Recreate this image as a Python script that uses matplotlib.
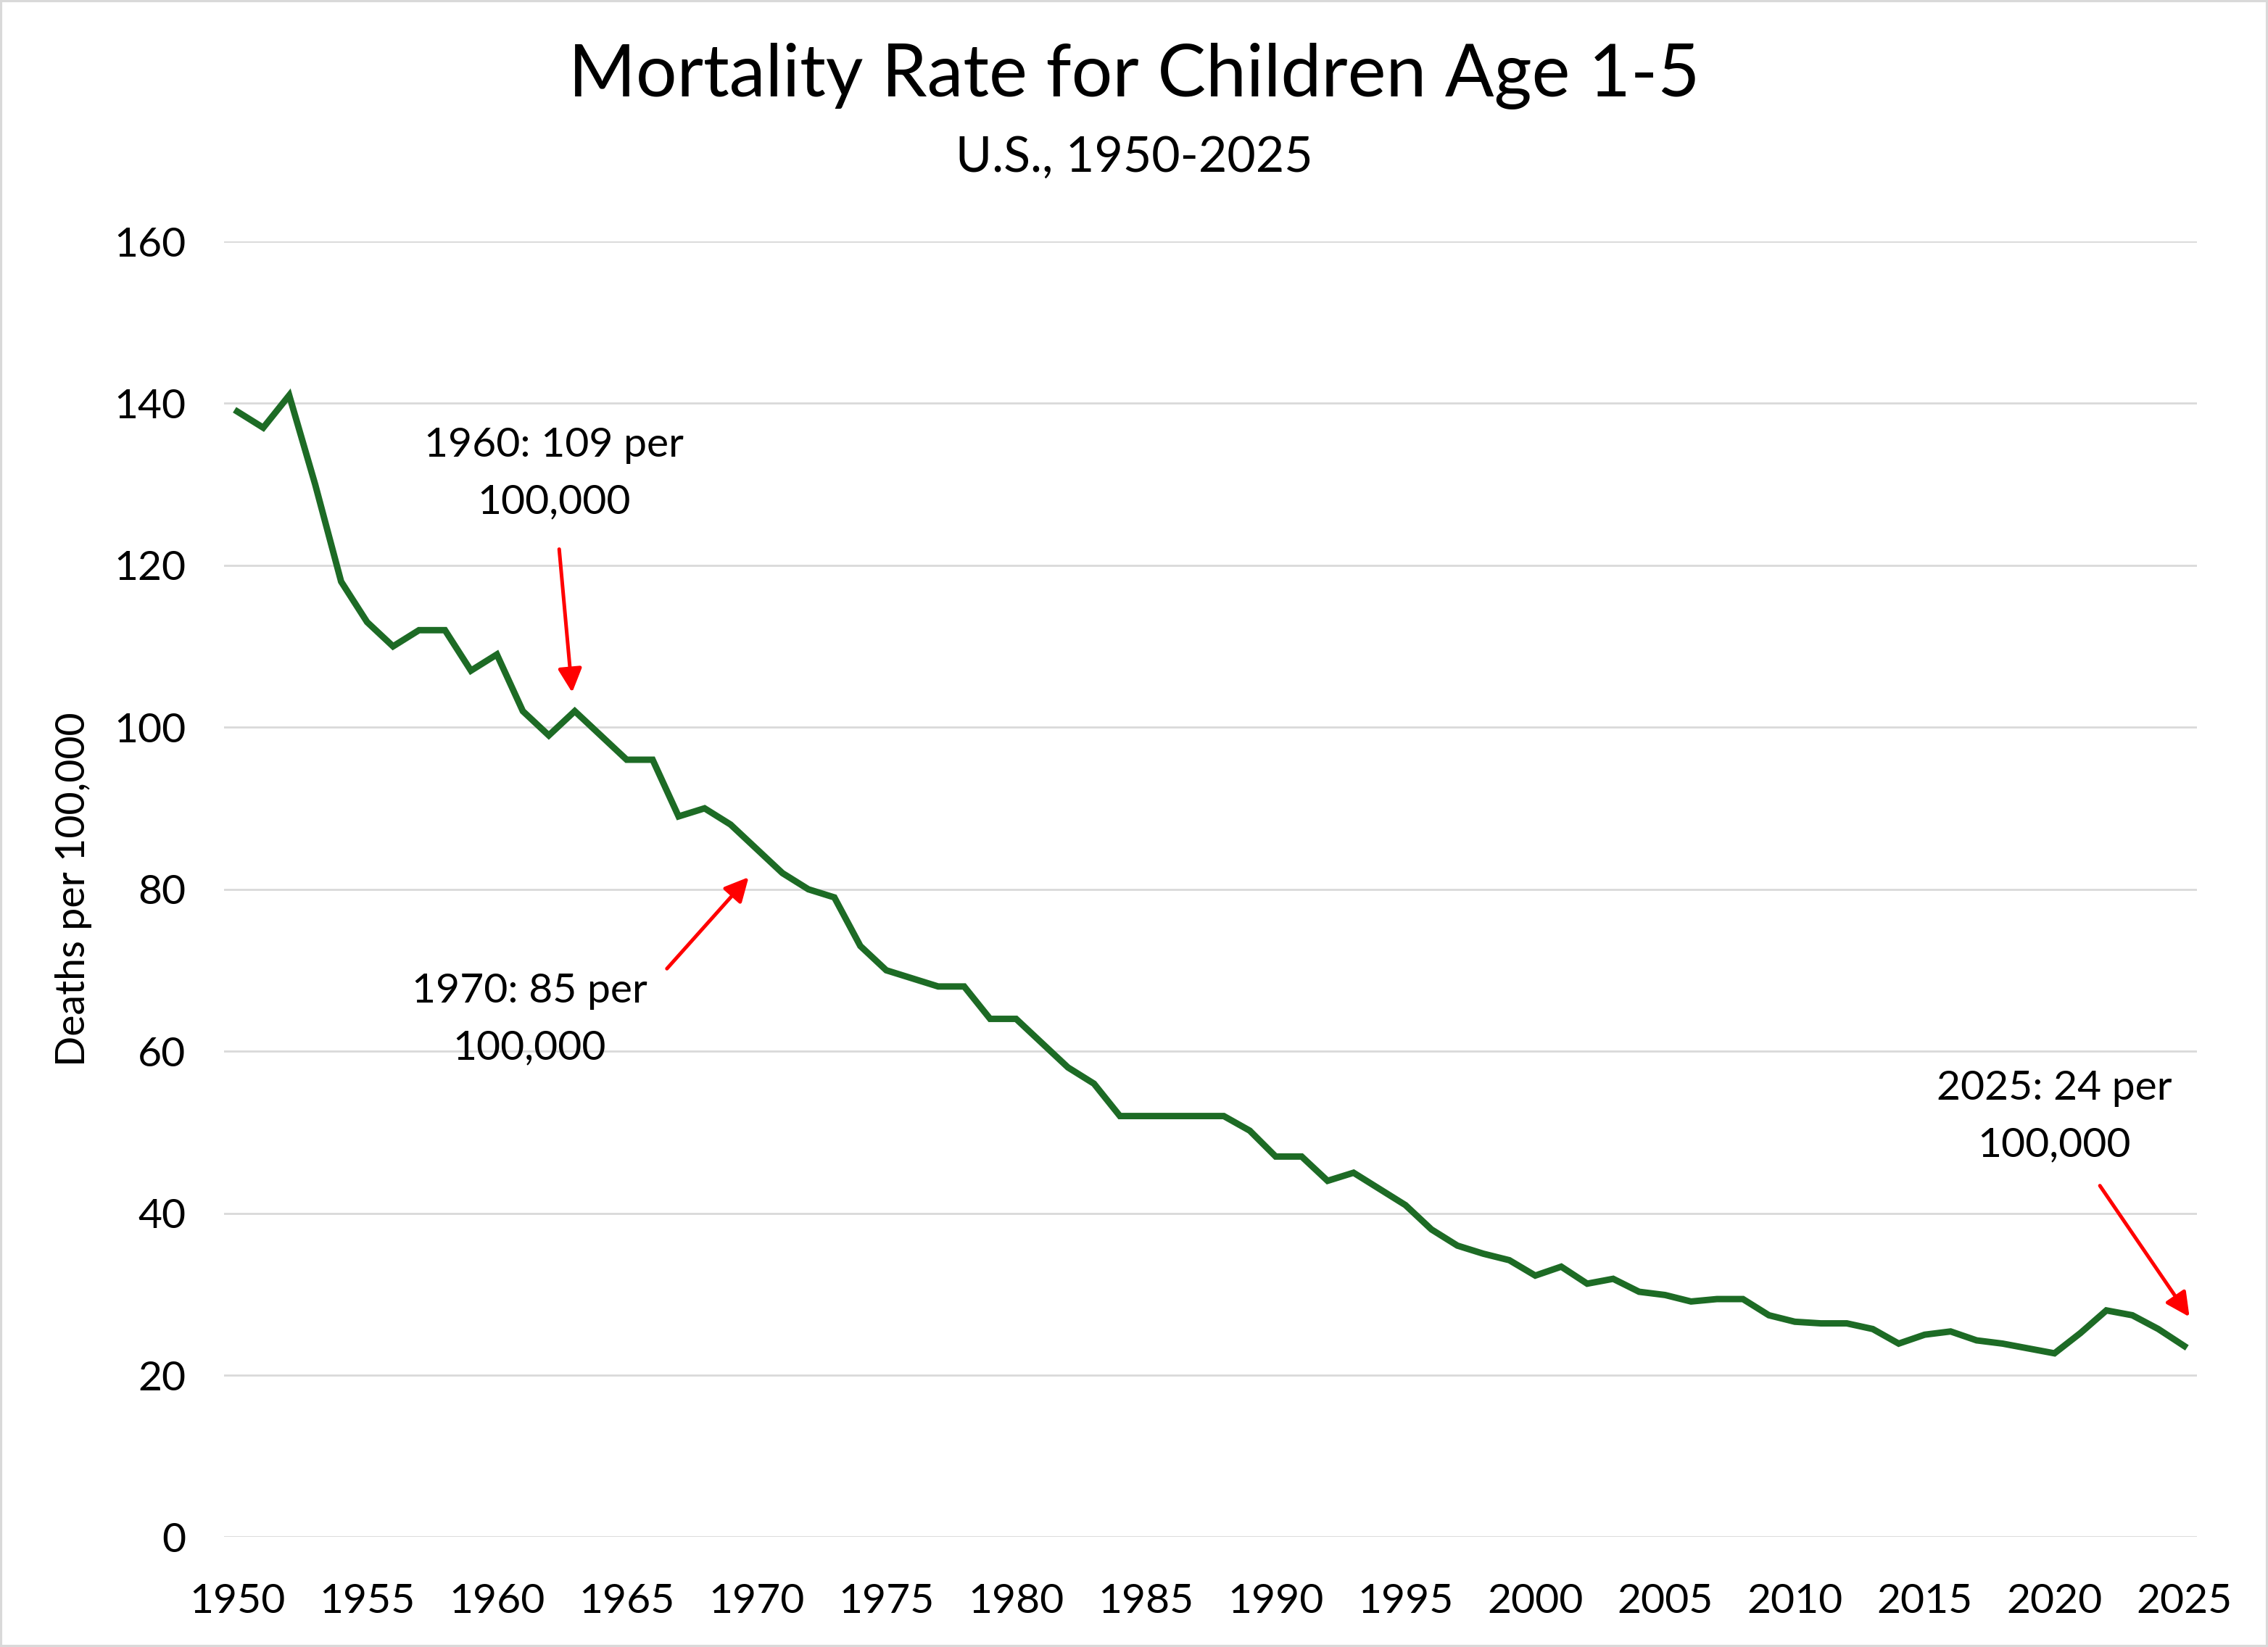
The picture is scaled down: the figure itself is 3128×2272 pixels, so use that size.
import matplotlib
matplotlib.use("Agg")
import matplotlib.pyplot as plt
from matplotlib.patches import Rectangle

# Data (deaths per 100,000, children age 1-5)
years = list(range(1950, 2026))
rates = [139, 137, 141, 130, 118, 113, 110, 112, 112, 107,
         109, 102, 99, 102, 99, 96, 96, 89, 90, 88,
         85, 82, 80, 79, 73, 70, 69, 68, 68, 64,
         64, 61, 58, 56, 52, 52, 52, 52, 52, 50.2,
         47, 47, 44, 45, 43, 41, 38, 36, 35, 34.2,
         32.3, 33.4, 31.3, 31.9, 30.3, 29.9, 29.1, 29.4, 29.4, 27.4,
         26.6, 26.4, 26.4, 25.7, 23.9, 25.0, 25.4, 24.3, 23.9, 23.3,
         22.7, 25.2, 28.0, 27.4, 25.7, 23.6]
x_ticks = list(range(1950, 2026, 5))
y_ticks = list(range(0, 161, 20))

title = "Mortality Rate for Children Age 1-5"
subtitle = "U.S., 1950-2025"
y_label = "Deaths per 100,000"

# annotation text, text centre, arrow tail, arrow head (data coords)
notes = [
    ("1960: 109 per\n100,000", (1962.2, 131.3), (1962.4, 122.0), (1962.9, 104.3)),
    ("1970: 85 per\n100,000", (1961.25, 63.9), (1966.55, 70.2), (1969.7, 81.5)),
    ("2025: 24 per\n100,000", (2020.0, 51.9), (2021.75, 43.4), (2025.2, 27.2)),
]

LINE_GREEN = "#1d6b25"
GRID_GREY = "#d9d9d9"

plt.rcParams['font.family'] = ['Lato', 'DejaVu Sans']

fig = plt.figure(figsize=(15.64, 11.36), dpi=200)
ax = fig.add_axes([0.0989, 0.0667, 0.8699, 0.7867])

ax.plot(years, rates, color=LINE_GREEN, linewidth=3.2, solid_joinstyle='miter', zorder=3)

ax.set_xlim(1949.5, 2025.5)
ax.set_ylim(0, 160)
ax.set_xticks(x_ticks)
ax.set_yticks(y_ticks)
ax.tick_params(axis='both', length=0, labelsize=20.5, colors='black')
ax.tick_params(axis='y', pad=19)
ax.tick_params(axis='x', pad=23)
ax.grid(axis='y', color=GRID_GREY, linewidth=1.0)
ax.set_axisbelow(True)
for s in ax.spines.values():
    s.set_visible(False)

ax.set_ylabel(y_label, fontsize=20)
ax.yaxis.set_label_coords(-0.067, 0.5)

# title block
fig.text(0.5, 0.954, title, ha='center', va='center', fontsize=36)
fig.text(0.5, 0.904, subtitle, ha='center', va='center', fontsize=24.5)

# annotations with red arrows
for txt, pos, tail, head in notes:
    ax.text(pos[0], pos[1], txt, ha='center', va='center', fontsize=20.5, linespacing=1.65)
    ax.annotate('', xy=head, xytext=tail,
                arrowprops=dict(arrowstyle='-|>,head_length=0.5,head_width=0.25',
                                mutation_scale=20, color='#ff0000', lw=1.8,
                                shrinkA=0, shrinkB=0))

# thin grey frame round the whole chart
fig.patches.append(Rectangle((0, 0), 1, 1, transform=fig.transFigure, fill=False,
                             edgecolor=GRID_GREY, linewidth=2.2))

fig.savefig("out.png", dpi=200, facecolor='white')
